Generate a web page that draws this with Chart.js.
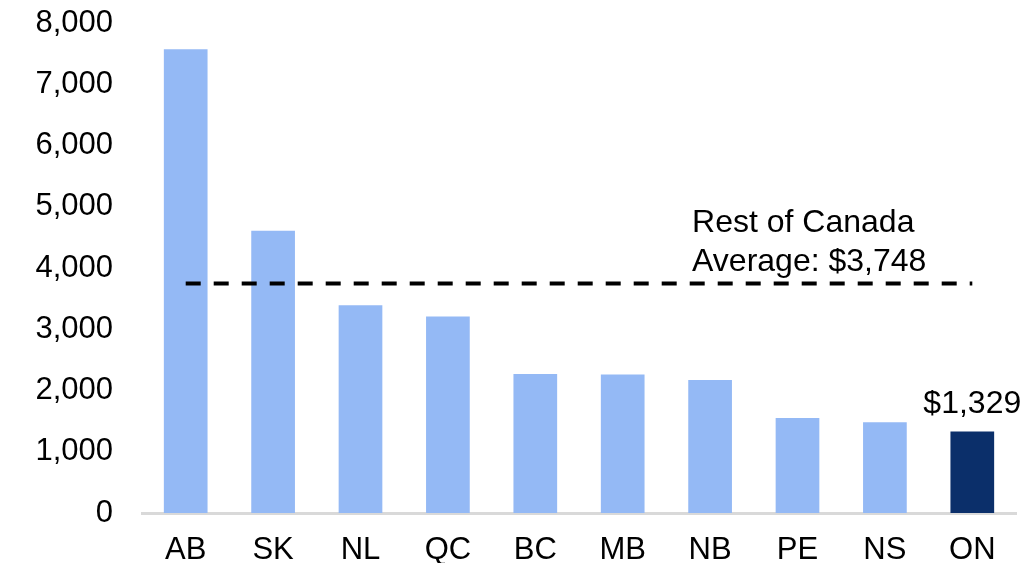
<!DOCTYPE html>
<html>
<head>
<meta charset="utf-8">
<script src="https://cdn.jsdelivr.net/npm/chart.js@4"></script>
<style>
  html, body { margin: 0; padding: 0; background: #fff; }
  #wrap { width: 1033px; height: 563px; }
</style>
</head>
<body>
<div id="wrap"><canvas id="grafico"></canvas></div>
<script>
const provincias = ["AB", "SK", "NL", "QC", "BC", "MB", "NB", "PE", "NS", "ON"];
const valores = [7570, 4610, 3390, 3210, 2270, 2260, 2170, 1550, 1480, 1329];
const mediaResto = 3748;
const textoMedia = ["Rest of Canada", "Average: $3,748"];
const rotuloON = "$1,329";

const FONTE = "'Liberation Sans', Arial, sans-serif";
const azulClaro = "#94B9F5";
const azulEscuro = "#0B2F6A";

const cores = provincias.map(p => p === "ON" ? azulEscuro : azulClaro);
const linhaMedia = provincias.map(() => mediaResto);

// texts drawn on top of the chart
const textos = {
  id: "textos",
  afterDatasetsDraw(chart) {
    const ctx = chart.ctx;
    const x = chart.scales.x, y = chart.scales.y;
    ctx.save();
    ctx.font = "32px " + FONTE;
    ctx.fillStyle = "#000";
    ctx.textBaseline = "alphabetic";

    ctx.textAlign = "left";
    const xt = x.getPixelForValue(6) - 18;
    const yt = y.getPixelForValue(mediaResto);
    ctx.fillText(textoMedia[0], xt, yt - 51);
    ctx.fillText(textoMedia[1], xt, yt - 12);

    const i = provincias.indexOf("ON");
    ctx.textAlign = "center";
    ctx.fillText(rotuloON, x.getPixelForValue(i), y.getPixelForValue(valores[i]) - 19);
    ctx.restore();
  }
};

new Chart(document.getElementById("grafico").getContext("2d"), {
  data: {
    labels: provincias,
    datasets: [
      {
        type: "line",
        data: linhaMedia,
        borderColor: "#000",
        borderWidth: 4,
        borderDash: [15, 13],
        pointRadius: 0,
        fill: false,
        order: 0
      },
      {
        type: "bar",
        data: valores,
        backgroundColor: cores,
        categoryPercentage: 1,
        barPercentage: 0.5,
        order: 1
      }
    ]
  },
  options: {
    responsive: true,
    maintainAspectRatio: false,
    animation: false,
    layout: { padding: { top: 23, left: 0, right: 17, bottom: 0 } },
    plugins: {
      legend: { display: false },
      tooltip: { enabled: false },
      title: { display: false }
    },
    scales: {
      x: {
        grid: { display: false, drawOnChartArea: false, drawTicks: false },
        border: { display: true, color: "#D9D9D9", width: 3 },
        ticks: {
          color: "#000",
          padding: 25,
          font: { family: FONTE, size: 31, lineHeight: 0.8 }
        },
        afterFit: s => { s.height = 50; s.paddingLeft = 0; s.paddingRight = 0; }
      },
      y: {
        min: 0,
        max: 8000,
        grid: { display: false, drawTicks: false },
        border: { display: false },
        ticks: {
          stepSize: 1000,
          color: "#000",
          padding: 29,
          font: { family: FONTE, size: 31 },
          callback: v => v.toLocaleString("en-US")
        },
        afterFit: s => { s.width = 142; s.paddingTop = 0; s.paddingBottom = 0; }
      }
    }
  },
  plugins: [textos]
});
</script>
</body>
</html>
